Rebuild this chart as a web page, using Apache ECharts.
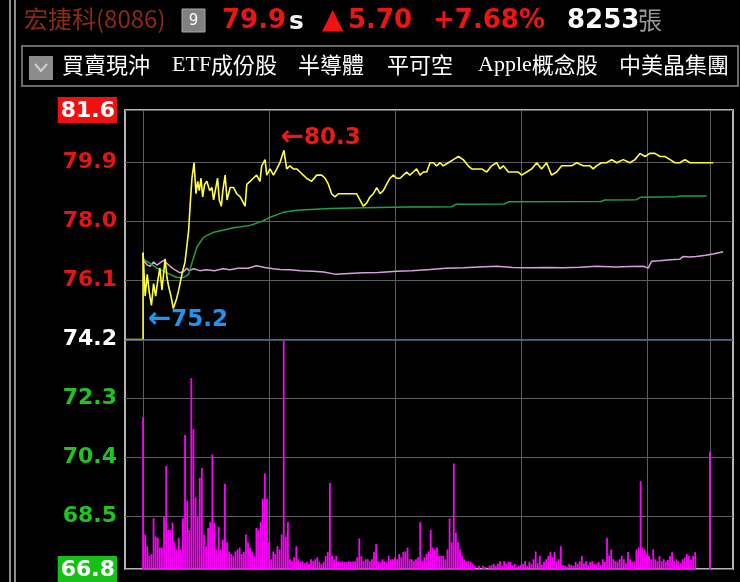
<!DOCTYPE html>
<html><head><meta charset="utf-8">
<script src="https://cdn.jsdelivr.net/npm/echarts@6/dist/echarts.min.js"></script>
<style>html,body{margin:0;padding:0;background:#000;}#c{width:740px;height:582px;}</style>
</head><body><div id="c"></div>
<script>
// ---- data ----
const prevClose = 74.2;
const yTicks = [66.8, 68.5, 70.4, 72.3, 74.2, 76.1, 78.0, 79.9, 81.6];
const timeGrid = [0, 60, 120, 180, 240, 270]; // minutes after 09:00
const xMin = -8.6, xMax = 281;

const priceT = [0,1,2,3,4,5,6,7,8,9,
10.5,11.4,12.2,13.3,14.4,15.9,17,18.5,20,21.7,
22.5,23.3,24.3,25.2,26,26.8,27.6,28.4,29.3,30.4,
31.7,32.8,33.6,34.4,35.5,36.3,37.3,38,39.1,40,
41.5,43.1,44.6,46.3,48.6,49.4,51,52.5,54.1,55.7,
56.5,58.1,58.9,60.5,62.1,63.7,65.2,67.1,68.4,70,
71.6,73.2,74.8,76.3,77.9,80.3,82.7,85.1,86.7,88.3,
89.8,91.4,93,95.4,98.6,101.7,103.3,104.9,106.5,108.1,
109.7,111.3,112.9,114.4,116,117.6,119.2,120.8,122.4,124,
125.6,127.1,128.7,130.3,131.9,133.5,135.1,136.7,138.3,139.8,
141.5,143,145.4,147.8,150.2,152.5,154.9,156.5,158.9,161.3,
163.7,166,168.4,170,171.6,174,176.4,178.7,180.3,182.7,
185.1,187.5,189.8,192.2,194.6,197,199.4,201.7,204.1,206.5,
209.7,212.9,214.4,216,218.4,220.8,223.2,225.6,228.7,231.9,
234.3,236.7,239.1,241.4,243.8,246.2,248.6,251,253.3,255.7,
258.1,260.5,262.9,265.2,271.6];
const priceV = [77.0,75.6,76.3,75.7,75.3,76.0,75.6,76.1,76.5,75.8,
76.8,76.2,75.9,75.6,75.2,75.5,75.8,76.3,76.7,77.7,
78.6,79.4,79.9,78.9,79.3,79.0,79.4,78.8,79.2,79.3,
79.0,79.1,78.7,79.0,79.4,78.7,78.5,79.0,79.5,78.7,
79.1,79.1,78.9,78.8,78.5,79.2,79.3,79.4,79.5,79.3,
79.8,80.0,79.5,79.7,79.5,79.7,79.9,80.3,79.7,79.8,
79.7,79.7,79.6,79.5,79.4,79.3,79.5,79.5,79.4,79.2,
78.9,78.8,78.9,78.9,78.9,78.9,78.7,78.5,78.6,78.8,
78.9,79.1,78.9,79.0,79.2,79.4,79.5,79.4,79.4,79.5,
79.6,79.5,79.6,79.7,79.5,79.6,79.6,79.9,79.9,79.8,
79.9,79.8,79.9,80.0,80.1,80.0,79.8,79.7,79.7,79.7,
79.6,79.8,79.9,79.7,79.8,79.6,79.6,79.6,79.5,79.6,
79.7,79.9,79.7,79.9,79.5,79.6,79.8,79.8,79.8,79.9,
79.8,79.8,79.7,79.8,79.9,79.9,80.0,79.9,80.0,79.9,
80.0,80.2,80.1,80.2,80.2,80.1,80.1,80.0,79.9,79.9,
80.0,79.9,79.9,79.9,79.9];

const avgT = [0,6.6,11.4,16.2,19.4,21.7,23.3,25.7,28.9,33.7,43.2,51.1,57.3,60.5,66.8,73.2,89,105,125.6,136.7,147,149,172,174,218,220,235,237,254,256,268.4];
const avgV = [76.8,76.5,76.35,76.2,76.2,76.3,76.67,77.19,77.5,77.66,77.8,77.88,78.03,78.14,78.3,78.37,78.42,78.45,78.47,78.47,78.48,78.56,78.57,78.64,78.65,78.7,78.71,78.79,78.8,78.83,78.83];

const pinkT = [0,2,3.4,5,6.6,9.8,12.9,15,17.6,19.5,
20.8,22,24.1,27,30,34,38,41.5,45,50,
54,58,62,65.2,70,75,81,86,92,98,
105,112,120.8,128,136.7,144,152.5,160,168.4,176,
184.3,192,200.2,208,216,225,232,238.3,240.6,242.2,
246,251,255.7,257.3,260,263.6,268,271.6,276.3];
const pinkV = [76.77,76.6,76.56,76.7,76.6,76.75,76.56,76.45,76.35,76.4,
76.5,76.42,76.48,76.42,76.45,76.42,76.48,76.45,76.5,76.5,
76.58,76.52,76.48,76.46,76.45,76.42,76.4,76.38,76.3,76.33,
76.35,76.36,76.4,76.42,76.46,76.5,76.51,76.54,76.56,76.52,
76.51,76.52,76.51,76.53,76.56,76.54,76.55,76.56,76.5,76.72,
76.74,76.77,76.79,76.88,76.86,76.88,76.92,76.96,77.03];

// volume per minute (lots), minute 0 = 09:00
const volume = [233,53,35,20,23,78,50,48,33,33,
80,158,60,60,71,41,30,48,30,78,
206,105,60,293,215,110,80,140,155,53,
35,63,72,176,71,30,65,30,45,131,
41,27,23,20,27,30,33,23,26,53,
41,33,27,20,63,60,72,108,147,108,
41,15,27,23,35,30,53,350,50,72,
15,12,18,35,15,11,12,9,11,8,
15,12,15,18,11,8,11,20,26,132,
20,15,20,12,11,12,11,11,12,11,
11,12,18,47,20,12,15,15,12,15,
26,38,12,11,15,12,11,20,15,15,
18,15,23,18,26,27,33,15,15,12,
15,18,72,12,18,23,27,60,33,30,
33,20,20,20,15,30,78,41,162,56,
41,30,20,15,12,12,11,8,5,0,
5,0,5,3,0,5,6,8,5,8,
12,5,12,8,11,11,6,8,3,5,
6,8,12,5,11,8,15,27,9,20,
6,11,15,20,26,18,26,12,15,35,
6,5,3,8,6,5,11,8,12,20,
9,12,6,11,12,8,8,11,6,15,
11,48,21,30,15,12,11,15,20,15,
9,26,15,11,12,30,33,135,33,30,
23,20,15,30,15,12,20,12,15,11,
14,20,26,12,15,12,9,15,18,23,
20,15,20,26,0,0,0,0,0,0,
180];
const volMax = 705;

const header = {name:'宏捷科(8086)', badge:'9', price:'79.9', flag:'s', change:'5.70', pct:'+7.68%', vol:'8253', unit:'張'};
const tabs = ['買賣現沖', 'ETF成份股', '半導體', '平可空', 'Apple概念股', '中美晶集團'];

// ---- chart ----
const zip = (a, b) => a.map((x, i) => [x, b[i]]);
const F = '"DejaVu Sans", sans-serif';
const CJK = '"Noto Sans CJK TC", "Noto Sans CJK SC", sans-serif';
const LAT = '"Liberation Serif", serif';
const RED = '#ee1414';

const chart = echarts.init(document.getElementById('c'));

function yLabel(v) {
  const s = v.toFixed(1);
  if (Math.abs(v - yTicks[yTicks.length - 1]) < 1e-6) return '{top|' + s + '}';
  if (Math.abs(v - yTicks[0]) < 1e-6) return '{bot|' + s + '}';
  if (v > prevClose + 1e-6) return '{up|' + s + '}';
  if (v < prevClose - 1e-6) return '{dn|' + s + '}';
  return '{eq|' + s + '}';
}
const lab = {fontFamily: F, fontWeight: 'bold', fontSize: 22};

const tabX = [62, 172, 298, 387, 478, 619];
const graphics = [
  {type:'line', shape:{x1:10, y1:0, x2:10, y2:582}, style:{stroke:'#bdbdbd', lineWidth:1.5}},
  {type:'line', shape:{x1:15, y1:0, x2:15, y2:582}, style:{stroke:'#bdbdbd', lineWidth:1.5}},
  {type:'text', x:24, y:19, style:{text:header.name, font:'24px ' + CJK, fill:'#8c2a12', textVerticalAlign:'middle'}},
  {type:'rect', shape:{x:182, y:9, width:23, height:23}, style:{fill:'#808080', stroke:'#a8a8a8', lineWidth:1}},
  {type:'text', x:193.5, y:21, style:{text:header.badge, font:'15px ' + F, fill:'#ffffff', textAlign:'center', textVerticalAlign:'middle'}},
  {type:'text', x:222, y:21, style:{text:header.price, font:'bold 26px ' + F, fill:RED, textVerticalAlign:'middle'}},
  {type:'text', x:289, y:22, style:{text:header.flag, font:'bold 25px ' + F, fill:'#f4f4f4', textVerticalAlign:'middle'}},
  {type:'text', x:322, y:21, style:{text:'▲', font:'28px ' + F, fill:RED, textVerticalAlign:'middle'}},
  {type:'text', x:348, y:21, style:{text:header.change, font:'bold 26px ' + F, fill:RED, textVerticalAlign:'middle'}},
  {type:'text', x:433, y:21, style:{text:header.pct, font:'bold 26px ' + F, fill:RED, textVerticalAlign:'middle'}},
  {type:'text', x:567, y:21, style:{text:header.vol, font:'bold 26px ' + F, fill:'#ffffff', textVerticalAlign:'middle'}},
  {type:'text', x:638, y:20, style:{text:header.unit, font:'24px ' + CJK, fill:'#9a9a9a', textVerticalAlign:'middle'}},
  {type:'rect', shape:{x:22, y:46, width:716, height:40}, style:{fill:'none', stroke:'#8a8a8a', lineWidth:1.5}},
  {type:'rect', shape:{x:29, y:56, width:24, height:24}, style:{fill:'#8c8c8c'}},
  {type:'polyline', shape:{points:[[35,64],[41,71],[47,64]]}, style:{stroke:'#cfcfcf', lineWidth:2, fill:'none'}}
];
tabs.forEach((t, i) => {
  const m = t.match(/^([A-Za-z]+)(.*)$/);
  const rich = {l:{font:'22px ' + LAT, fill:'#fff'}, c:{font:'22px ' + CJK, fill:'#fff'}};
  const txt = m ? '{l|' + m[1] + '}{c|' + m[2] + '}' : '{c|' + t + '}';
  graphics.push({type:'text', x:tabX[i], y:65, style:{text:txt, rich:rich, fill:'#fff', font:'22px ' + CJK, textVerticalAlign:'middle'}});
});

const arrowLabel = (color, pos) => ({show:true, position:pos, align:'left', verticalAlign:'middle',
  formatter:p => '{a|←}{n|' + p.value.toFixed(1) + '}',
  rich:{a:{fontFamily:F, fontWeight:'bold', fontSize:28, color:color}, n:{fontFamily:F, fontWeight:'bold', fontSize:23, color:color}}});

const option = {
  backgroundColor: '#000',
  animation: false,
  graphic: {elements: graphics},
  grid: {left:125, right:7, top:110, bottom:2, show:true, borderColor:'#b4b4b4', borderWidth:2, backgroundColor:'#000'},
  xAxis: {type:'value', min:xMin, max:xMax,
    axisLine:{show:false}, axisTick:{show:false, customValues:timeGrid}, axisLabel:{show:false, customValues:timeGrid},
    splitLine:{show:true, lineStyle:{color:'#5e5e5e', width:1}}},
  yAxis: [
    {type:'value', min:yTicks[0], max:yTicks[yTicks.length - 1],
     axisLine:{show:false}, axisTick:{show:false, customValues:yTicks},
     axisLabel:{customValues:yTicks, margin:8, showMinLabel:true, showMaxLabel:true, formatter:yLabel,
       rich:{
         top:Object.assign({color:'#fff', backgroundColor:'#f01010', padding:[3,2,1,3]}, lab),
         bot:Object.assign({color:'#fff', backgroundColor:'#16c016', padding:[3,2,1,3]}, lab),
         up:Object.assign({color:'#e31515'}, lab),
         dn:Object.assign({color:'#20c420'}, lab),
         eq:Object.assign({color:'#ffffff'}, lab)
       }},
     splitLine:{show:true, lineStyle:{color:'#5e5e5e', width:1}}},
    {type:'value', min:0, max:volMax, show:false, splitLine:{show:false}}
  ],
  series: [
    {type:'bar', yAxisIndex:1, data: volume.map((v, i) => [i, v]), barWidth:1.8, itemStyle:{color:'#ff00ff'}, silent:true},
    {type:'line', data: zip(pinkT, pinkV), showSymbol:false, lineStyle:{color:'#d8a0dc', width:1.5}, silent:true},
    {type:'line', data: zip(avgT, avgV), showSymbol:false, lineStyle:{color:'#22a040', width:1.5}, silent:true},
    {type:'line', data: [[xMin, prevClose], [0, prevClose], [0, priceV[0]]], showSymbol:false, lineStyle:{color:'#ffff40', width:1.6}, silent:true,
     markLine:{silent:true, symbol:'none', label:{show:false}, lineStyle:{color:'#4f7190', type:'solid', width:1.5}, data:[{yAxis:prevClose}]}},
    {type:'line', data: zip(priceT, priceV), showSymbol:false, lineStyle:{color:'#ffff40', width:1.6}, silent:true,
     markPoint:{symbol:'circle', symbolSize:1, itemStyle:{color:'rgba(0,0,0,0)'}, silent:true,
       data:[
         {type:'max', label:arrowLabel('#ee1818', [-3,-12])},
         {type:'min', label:arrowLabel('#1e96f0', [-25,12])}
       ]}}
  ]
};
chart.setOption(option);
</script></body></html>
